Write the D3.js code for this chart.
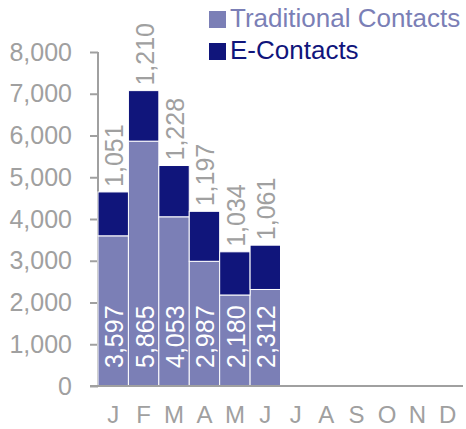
<!DOCTYPE html>
<html>
<head>
<meta charset="utf-8">
<script src="https://cdn.jsdelivr.net/npm/d3@7"></script>
<style>
  body { margin: 0; background: #fff; }
  text { font-family: "Liberation Sans", Arial, sans-serif; }
</style>
</head>
<body>
<div id="chart-area"></div>
<script>
'use strict';

let months = ['J', 'F', 'M', 'A', 'M', 'J', 'J', 'A', 'S', 'O', 'N', 'D'];
let traditional = [3597, 5865, 4053, 2987, 2180, 2312];
let econtacts = [1051, 1210, 1228, 1197, 1034, 1061];
let yTicks = [0, 1000, 2000, 3000, 4000, 5000, 6000, 7000, 8000];
let seriesNames = ['Traditional Contacts', 'E-Contacts'];

let colours = ['#7b7fb6', '#10157b'];
let grey = '#a0a0a0';

let margin = { left: 98, right: 3, top: 52, bottom: 43 };
let width = 466, height = 429;
let w = width - margin.left - margin.right;
let h = height - margin.top - margin.bottom;

let svg = d3.select('#chart-area').append('svg')
    .attr('width', width)
    .attr('height', height);

let g = svg.append('g')
    .attr('transform', 'translate(' + margin.left + ',' + margin.top + ')');

// band per month index so repeated letters stay separate
let x = d3.scaleBand()
    .domain(d3.range(months.length))
    .range([0, w])
    .paddingInner(0)
    .paddingOuter(0);

let y = d3.scaleLinear()
    .domain([0, 8000])
    .range([h, 0]);

let fmt = d3.format(',');

// y axis
let y_axis = d3.axisLeft(y)
    .tickValues(yTicks)
    .tickSize(8)
    .tickPadding(18)
    .tickFormat(fmt);

g.append('g')
    .attr('class', 'y_axis')
    .call(y_axis)
    .call(a => a.select('.domain').attr('stroke', grey).attr('stroke-width', 2).attr('d', 'M0,0V' + h))
    .call(a => a.selectAll('.tick line').attr('stroke', grey).attr('stroke-width', 2))
    .call(a => a.selectAll('text').attr('fill', grey).attr('font-size', '25px'));

// stacked bars
let data = traditional.map((t, i) => ({ i: i, t: t, e: econtacts[i] }));

g.selectAll('rect.trad')
    .data(data)
    .enter().append('rect')
    .attr('class', 'trad')
    .attr('x', d => x(d.i))
    .attr('width', x.bandwidth())
    .attr('y', d => y(d.t))
    .attr('height', d => y(0) - y(d.t))
    .attr('fill', colours[0])
    .attr('stroke', '#fff')
    .attr('stroke-width', 1);

g.selectAll('rect.econ')
    .data(data)
    .enter().append('rect')
    .attr('class', 'econ')
    .attr('x', d => x(d.i))
    .attr('width', x.bandwidth())
    .attr('y', d => y(d.t + d.e))
    .attr('height', d => y(d.t) - y(d.t + d.e))
    .attr('fill', colours[1])
    .attr('stroke', '#fff')
    .attr('stroke-width', 1);

// x axis baseline
let x_axis = d3.axisBottom(x)
    .tickSize(0)
    .tickPadding(20)
    .tickFormat(i => months[i]);

g.append('g')
    .attr('class', 'x_axis')
    .attr('transform', 'translate(0,' + h + ')')
    .call(x_axis)
    .call(a => a.select('.domain').attr('stroke', grey).attr('stroke-width', 2).attr('d', 'M-8,0H' + w))
    .call(a => a.selectAll('text').attr('fill', grey).attr('font-size', '24px'));

// value labels
let cx = d => x(d.i) + x.bandwidth() / 2 + 1;

g.selectAll('text.tlabel')
    .data(data)
    .enter().append('text')
    .attr('class', 'tlabel')
    .attr('transform', d => 'translate(' + cx(d) + ',' + (y(0) - 18) + ') rotate(-90)')
    .attr('dy', '0.36em')
    .attr('fill', '#fff')
    .attr('font-size', '25px')
    .text(d => fmt(d.t));

g.selectAll('text.elabel')
    .data(data)
    .enter().append('text')
    .attr('class', 'elabel')
    .attr('transform', d => 'translate(' + cx(d) + ',' + (y(d.t + d.e) - 5) + ') rotate(-90)')
    .attr('dy', '0.36em')
    .attr('fill', grey)
    .attr('font-size', '25px')
    .text(d => fmt(d.e));

// legend
let legend = svg.append('g').attr('class', 'legend');
seriesNames.forEach((name, i) => {
    let row = legend.append('g').attr('transform', 'translate(209,' + (9 + i * 32) + ')');
    row.append('rect')
        .attr('width', 17)
        .attr('height', 17)
        .attr('y', 2)
        .attr('fill', colours[i]);
    row.append('text')
        .attr('x', 21)
        .attr('y', 18)
        .attr('fill', colours[i])
        .attr('font-size', '26px')
        .text(name);
});
</script>
</body>
</html>
